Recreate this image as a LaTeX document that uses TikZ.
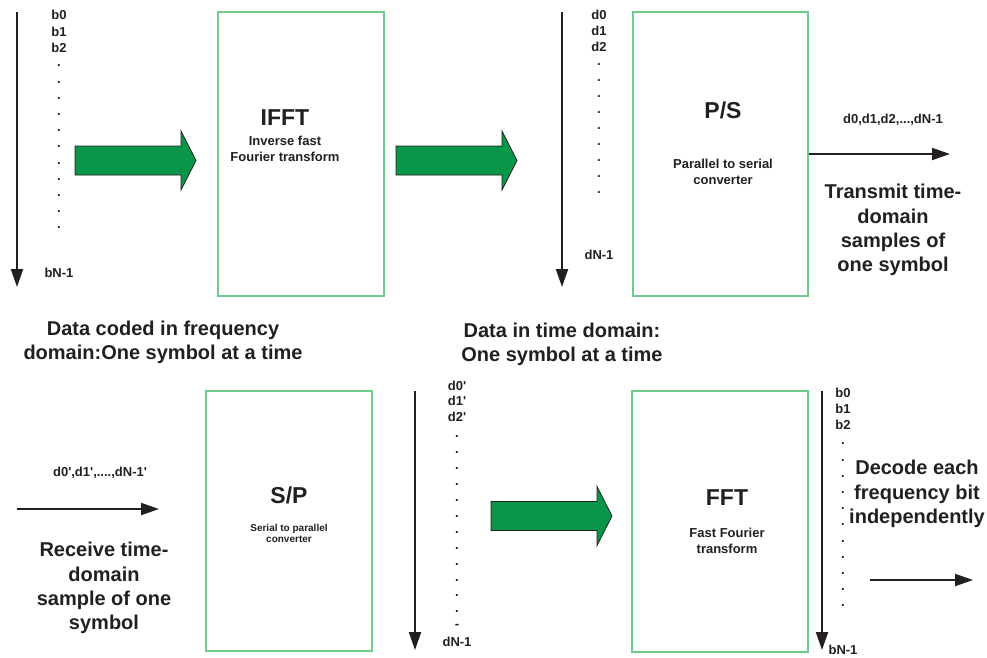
\documentclass[tikz,border=0pt]{standalone}
\usepackage{fontspec}
\setmainfont{Liberation Sans}
\usetikzlibrary{arrows.meta}
\definecolor{txt}{RGB}{35,31,32}
\definecolor{boxgreen}{RGB}{110,205,140}
\definecolor{arrowgreen}{RGB}{8,150,72}
\newcommand{\aps}{\textquotesingle}
\begin{document}
\begin{tikzpicture}[x=1pt,y=-1pt,
  every node/.style={inner sep=0pt, text=txt, font=\bfseries},
  blk/.style={draw=boxgreen, line width=1.1pt, fill=none},
  lbl/.style={font=\bfseries\fontsize{13}{15}\selectfont},
  big/.style={font=\bfseries\fontsize{23}{27}\selectfont},
  sub/.style={font=\bfseries\fontsize{13}{16}\selectfont, align=center},
  subsmall/.style={font=\bfseries\fontsize{10}{11.7}\selectfont, align=center},
  note/.style={font=\bfseries\fontsize{20}{24.3}\selectfont, align=center},
  sig/.style={draw=txt, line width=2pt, -{Triangle[length={18pt 0 0},width={12pt 0 0}]}},
  garrow/.pic={\draw[fill=arrowgreen, draw=txt, line width=0.8pt]
    (0,-14.5) -- (106,-14.5) -- (106,-29.5) -- (121,0) -- (106,29.5) -- (106,14.5) -- (0,14.5) -- cycle;}
]
\useasboundingbox (0,0) rectangle (987,657);

% boxes
\node[blk, minimum width=166pt, minimum height=284pt] (ifft) at (301,154) {};
\node[blk, minimum width=175pt, minimum height=284pt] (ps) at (720.5,154) {};
\node[blk, minimum width=166pt, minimum height=260pt] (sp) at (289,521) {};
\node[blk, minimum width=176pt, minimum height=261pt] (fft) at (720,521.5) {};

% box texts
\node[big] (tifft) at (285,118) {IFFT};
\node[sub] (sifft) at (285,149) {Inverse fast\\Fourier transform};
\node[big] (tps) at (723,110) {P/S};
\node[sub] (sps) at (723,172) {Parallel to serial\\converter};
\node[big] (tsp) at (289,495) {S/P};
\node[subsmall] (ssp) at (289,533.5) {Serial to parallel\\converter};
\node[big] (tfft) at (727,498) {FFT};
\node[sub] (sfft) at (727,541) {Fast Fourier\\transform};

% green block arrows
\pic (g1) at (75,160.5) {garrow};
\pic (g2) at (396,160.5) {garrow};
\pic (g3) at (491,516) {garrow};

% vertical arrows
\coordinate (v1s) at (17,12);   \coordinate (v1e) at (17,287);
\coordinate (v2s) at (562,12);  \coordinate (v2e) at (562,287);
\coordinate (v3s) at (415,391); \coordinate (v3e) at (415,650);
\coordinate (v4s) at (822,391); \coordinate (v4e) at (822,650);
\draw[sig] (v1s) -- (v1e);
\draw[sig] (v2s) -- (v2e);
\draw[sig] (v3s) -- (v3e);
\draw[sig] (v4s) -- (v4e);

% horizontal arrows
\coordinate (h1e) at (950,154);
\coordinate (h2s) at (17,509);  \coordinate (h2e) at (159,509);
\coordinate (h3s) at (870,580); \coordinate (h3e) at (973,580);
\draw[sig] (ps.east) -- (h1e);
\draw[sig] (h2s) -- (h2e);
\draw[sig] (h3s) -- (h3e);

% b list (top left)
\node[lbl] (b0) at (59,15) {b0};
\node[lbl] (b1) at (59,32) {b1};
\node[lbl] (b2) at (59,48) {b2};
\foreach \i in {0,...,10} \node[lbl] (bd\i) at (59,66+16.2*\i) {.};
\node[lbl] (bN) at (59,273) {bN-1};

% d list (top middle)
\node[lbl] (d0) at (599,15) {d0};
\node[lbl] (d1) at (599,31) {d1};
\node[lbl] (d2) at (599,47) {d2};
\foreach \i in {0,...,8} \node[lbl] (dd\i) at (599,65+16*\i) {.};
\node[lbl] (dN) at (599,255) {dN-1};

% d' list (bottom middle)
\node[lbl] (e0) at (457,386) {d0\aps};
\node[lbl] (e1) at (457,401) {d1\aps};
\node[lbl] (e2) at (457,417) {d2\aps};
\foreach \i in {0,...,11} \node[lbl] (ed\i) at (457,437+15.9*\i) {.};
\node[lbl] (edash) at (457,626) {-};
\node[lbl] (eN) at (457,642) {dN-1};

% b list (bottom right)
\node[lbl] (c0) at (843,393) {b0};
\node[lbl] (c1) at (843,409) {b1};
\node[lbl] (c2) at (843,425) {b2};
\foreach \i in {0,...,10} \node[lbl] (cd\i) at (843,444+16.2*\i) {.};
\node[lbl] (cN) at (843,650) {bN-1};

% labels
\node[lbl] (sig1) at (893,120) {d0,d1,d2,...,dN-1};
\node[lbl] (sig2) at (100,473) {d0\aps,d1\aps,....,dN-1\aps};
\node[note] (ntx) at (893,230) {Transmit time-\\domain\\samples of\\one symbol};
\node[note] (nfreq) at (163,342) {Data coded in frequency\\domain:One symbol at a time};
\node[note] (ntime) at (562,344) {Data in time domain:\\One symbol at a time};
\node[note] (nrx) at (104,588) {Receive time-\\domain\\sample of one\\symbol};
\node[note] (ndec) at (917,494) {Decode each\\frequency bit\\independently};
\end{tikzpicture}
\end{document}
